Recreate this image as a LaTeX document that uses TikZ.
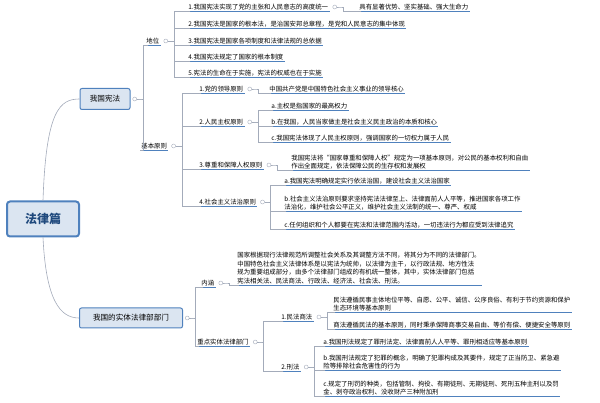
\documentclass[tikz,border=0pt]{standalone}
\usepackage{fontspec}
\setmainfont{Noto Sans CJK SC}
\usetikzlibrary{positioning}
\definecolor{boxfill}{HTML}{DBE5F1}
\definecolor{boxline}{HTML}{4F81BD}
\definecolor{rootink}{HTML}{1F497D}
\definecolor{linkgray}{HTML}{A3ABBA}
\newcommand{\fs}{\fontsize{6.4}{8.6}\selectfont}
\begin{document}
\begin{tikzpicture}[x=1pt,y=-1pt]

		% Define styles
		\tikzstyle{topbox} = [
		rectangle, rounded corners=2pt, draw=boxline, line width=1pt,
		fill=boxfill, font=\fontsize{7.6}{9}\selectfont, inner sep=2pt]
		\tikzstyle{uline} = [draw=boxline, line width=1.3pt]
		\tikzstyle{leaf} = [
		anchor=west, inner sep=1.2pt, font=\fs, align=left,
		append after command={(\tikzlastnode.south west) edge[uline] (\tikzlastnode.south east)}]
		\tikzstyle{mk} = [circle, draw=linkgray, inner sep=0pt, minimum size=4pt]
		\tikzstyle{conn} = [draw=linkgray, line width=0.6pt]

		\useasboundingbox (0,0) rectangle (600,403);

		% Main nodes
		\node (root) [topbox, line width=2pt, rounded corners=3pt, minimum width=72pt,
		minimum height=35pt, anchor=west, text=rootink,
		font=\fontsize{12}{14}\selectfont\bfseries] at (6,219) {法律篇};
		\node (xf) [topbox, minimum width=50pt, minimum height=21pt] at (105,99) {我国宪法};
		\node (st) [topbox, minimum width=103pt, minimum height=20pt] at (131,318) {我国的实体法律部部门};

		\node (xf-m) [mk, right=2pt of xf] {};
		\node (st-m) [mk, right=2pt of st] {};

		% Second level
		\node (dw) [leaf] at (145,41) {地位};
		\node (jb) [leaf] at (140,146) {基本原则};
		\node (nh) [leaf] at (200,283) {内涵};
		\node (zd) [leaf] at (196,342) {重点实体法律部门};
		\node (dw-m) [mk, right=3pt of dw] {};
		\node (jb-m) [mk, right=3pt of jb] {};
		\node (nh-m) [mk, right=3pt of nh] {};
		\node (zd-m) [mk, right=3pt of zd] {};

		% Position
		\node (d1) [leaf] at (187,7) {1.我国宪法实现了党的主张和人民意志的高度统一};
		\node (d2) [leaf] at (187,24) {2.我国宪法是国家的根本法，是治国安邦总章程，是党和人民意志的集中体现};
		\node (d3) [leaf] at (187,41) {3.我国宪法是国家各项制度和法律法规的总依据};
		\node (d4) [leaf] at (187,57) {4.我国宪法规定了国家的根本制度};
		\node (d5) [leaf] at (187,73) {5.宪法的生命在于实施，宪法的权威也在于实施};
		\node (d1-m) [mk, right=3pt of d1] {};
		\node (d1a) [leaf] at (358,7) {具有显著优势、坚实基础、强大生命力};

		% Basic principles
		\node (p1) [leaf] at (198,89) {1.党的领导原则};
		\node (p2) [leaf] at (198,122) {2.人民主权原则};
		\node (p3) [leaf] at (198,165) {3.尊重和保障人权原则};
		\node (p4) [leaf] at (198,202) {4.社会主义法治原则};
		\foreach \p in {p1,p2,p3,p4}
			\node (\p-m) [mk, right=3pt of \p] {};

		\node (p1a) [leaf] at (268,89) {中国共产党是中国特色社会主义事业的领导核心};
		\node (p2a) [leaf] at (270,106) {a.主权是指国家的最高权力};
		\node (p2b) [leaf] at (270,122) {b.在我国，人民当家做主是社会主义民主政治的本质和核心};
		\node (p2c) [leaf] at (270,138) {c.我国宪法体现了人民主权原则，强调国家的一切权力属于人民};
		\node (p3a) [leaf] at (290,162) {我国宪法将“国家尊重和保障人权”规定为一项基本原则，对公民的基本权利和自由\\
			作出全面规定，依法保障公民的生存权和发展权};
		\node (p4a) [leaf] at (283,181) {a.我国宪法明确规定实行依法治国，建设社会主义法治国家};
		\node (p4b) [leaf] at (283,203) {b.社会主义法治原则要求坚持宪法法律至上、法律面前人人平等，推进国家各项工作\\
			法治化，维护社会公平正义，维护社会主义法制的统一、尊严、权威};
		\node (p4c) [leaf] at (283,225) {c.任何组织和个人都要在宪法和法律范围内活动，一切违法行为都应受到法律追究};

		% Connotation
		\node (nha) [leaf] at (236,268) {国家根据现行法律规范所调整社会关系及其调整方法不同，将其分为不同的法律部门。\\
			中国特色社会主义法律体系是以宪法为统帅，以法律为主干，以行政法规、地方性法\\
			规为重要组成部分，由多个法律部门组成的有机统一整体，其中，实体法律部门包括\\
			宪法相关法、民法商法、行政法、经济法、社会法、刑法。};

		% Key departments
		\node (m1) [leaf] at (280,317) {1.民法商法};
		\node (m2) [leaf] at (280,367) {2.刑法};
		\node (m1-m) [mk, right=3pt of m1] {};
		\node (m2-m) [mk, right=3pt of m2] {};
		\node (m1a) [leaf] at (332,304) {民法遵循民事主体地位平等、自愿、公平、诚信、公序良俗、有利于节约资源和保护\\
			生态环境等基本原则};
		\node (m1b) [leaf] at (332,325) {商法遵循民法的基本原则，同时秉承保障商事交易自由、等价有偿、便捷安全等原则};
		\node (m2a) [leaf] at (322,342) {a.我国刑法规定了罪刑法定、法律面前人人平等、罪刑相适应等基本原则};
		\node (m2b) [leaf] at (322,362) {b.我国刑法规定了犯罪的概念，明确了犯罪构成及其要件，规定了正当防卫、紧急避\\
			险等排除社会危害性的行为};
		\node (m2c) [leaf] at (322,388) {c.规定了刑罚的种类，包括管制、拘役、有期徒刑、无期徒刑、死刑五种主刑以及罚\\
			金、剥夺政治权利、没收财产三种附加刑};

		% Connectors
		\draw [conn] (root.north) .. controls (46,110) and (60,99) .. (xf.west);
		\draw [conn] (root.south) .. controls (46,300) and (60,318) .. (st.west);
		\foreach \a/\b in {xf-m/dw, xf-m/jb, st-m/nh, st-m/zd,
			dw-m/d1, dw-m/d2, dw-m/d3, dw-m/d4, dw-m/d5, d1-m/d1a,
			jb-m/p1, jb-m/p2, jb-m/p3, jb-m/p4,
			p1-m/p1a, p2-m/p2a, p2-m/p2b, p2-m/p2c, p3-m/p3a,
			p4-m/p4a, p4-m/p4b, p4-m/p4c, nh-m/nha,
			zd-m/m1, zd-m/m2, m1-m/m1a, m1-m/m1b, m2-m/m2a, m2-m/m2b, m2-m/m2c}
			\draw [conn] (\a.east) .. controls +(5,0) and +(-3,0) .. ++(6,0)
				|- ([xshift=3pt]\b.south west) -- (\b.south west);

\end{tikzpicture}
\end{document}
